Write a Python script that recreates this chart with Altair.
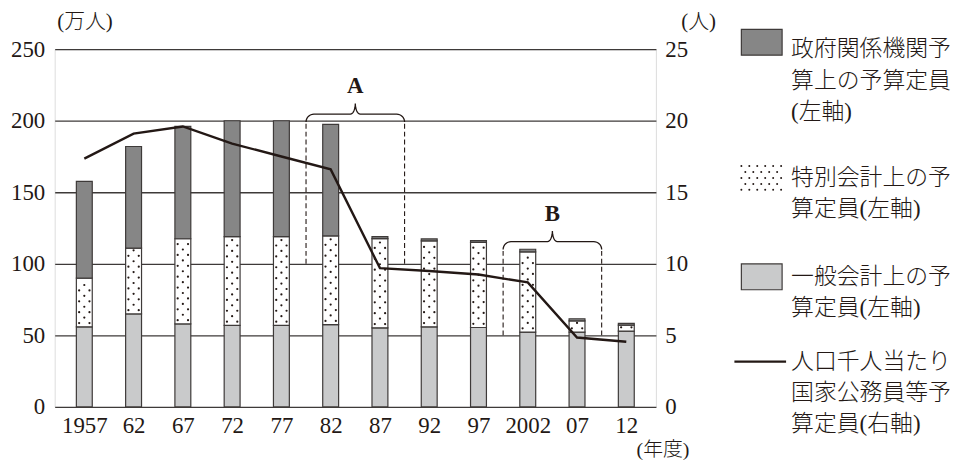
import math
import altair as alt
import pandas as pd

# ---------------- data ----------------
years = ["1957", "62", "67", "72", "77", "82", "87", "92", "97", "2002", "07", "12"]
general = [56, 65, 58, 57, 57, 57.5, 55.3, 56, 55.5, 52.3, 52.3, 53]          # 一般会計 (万人)
special = [34, 46, 59.5, 62, 62, 62, 62.3, 60, 59.5, 56, 7.8, 4.2]           # 特別会計 (万人)
govt = [67.6, 71, 78.5, 81, 81, 78, 1.4, 1.4, 1.2, 1.9, 1.5, 1.2]            # 政府関係機関 (万人)
per_thousand = [17.35, 19.1, 19.6, 18.4, 17.5, 16.6, 9.7, 9.5, 9.25, 8.7, 4.85, 4.55]  # 人口千人当たり (人)

bracket_labels = ["A", "B"]
bracket_first = [4.5, 8.5]
bracket_last = [6.5, 10.5]
bracket_base = [100, 50]
bracket_level = [204.6, 115.5]

legend_labels = [
    ["政府関係機関予", "算上の予算定員", "(左軸)"],
    ["特別会計上の予", "算定員(左軸)"],
    ["一般会計上の予", "算定員(左軸)"],
    ["人口千人当たり", "国家公務員等予", "算定員(右軸)"],
]
legend_kinds = ["govt", "special", "general", "line"]

# ---------------- styles / layout ----------------
INK = "#231815"
GRID = "#3e3a39"
DARK = "#868686"
LIGHT = "#c9cacb"
NUM_FONT = "Liberation Serif"
JP_FONT = "Liberation Serif, Noto Sans CJK JP"
W, H = 605, 360
n = len(years)
legend_gap_after = [1.1, 1.15, 0.7, 0]      # blank space between legend entries (in lines)
legend_swatch_shift = [-7, 0, 0, 0]          # px shift of swatch relative to first line

# ---------------- tables ----------------
seg_rows = []
for i in range(n):
    g, s, v = general[i], special[i], govt[i]
    seg_rows.append(dict(i=i, seg="general", y0=0, y1=g))
    seg_rows.append(dict(i=i, seg="special", y0=g, y1=g + s))
    seg_rows.append(dict(i=i, seg="govt", y0=g + s, y1=g + s + v))
bars_df = pd.DataFrame(seg_rows)

# dotted texture for the special-account segments
dot_rows = []
for i in range(n):
    lo, hi = general[i], general[i] + special[i]
    y, r = lo + 2.6, 0
    while y < hi - 1.2:
        offs = [-0.105, 0.105] if r % 2 == 0 else [0.0]
        for o in offs:
            dot_rows.append(dict(i=i + o, y=y))
        y += 3.8
        r += 1
dots_df = pd.DataFrame(dot_rows)

line_df = pd.DataFrame(dict(i=list(range(n)), v=per_thousand))

# braces
brace_rows, dash_rows, lab_rows = [], [], []
wc, hc = 0.16, 5.5      # corner radius (x units, y units)
wt, ht = 0.10, 7.5      # tip curve
steps = 8
for b, lab in enumerate(bracket_labels):
    x0, x1 = bracket_first[b], bracket_last[b]
    xm = (x0 + x1) / 2
    yh = bracket_level[b]
    pts = []
    for k in range(steps + 1):
        t = math.pi / 2 * k / steps
        pts.append((x0 + wc - wc * math.cos(t), yh - hc + hc * math.sin(t)))
    for k in range(steps + 1):
        t = math.pi / 2 * k / steps
        pts.append((xm - wt + wt * math.sin(t), yh + ht - ht * math.cos(t)))
    for k in range(steps, -1, -1):
        t = math.pi / 2 * k / steps
        pts.append((xm + wt - wt * math.sin(t), yh + ht - ht * math.cos(t)))
    for k in range(steps, -1, -1):
        t = math.pi / 2 * k / steps
        pts.append((x1 - wc + wc * math.cos(t), yh - hc + hc * math.sin(t)))
    for k, (px, py) in enumerate(pts):
        brace_rows.append(dict(b=lab, k=k, i=px, y=py))
    for xx in (x0, x1):
        dash_rows.append(dict(b=lab, i=xx, y0=bracket_base[b], y1=yh - hc))
    lab_rows.append(dict(label=lab, i=xm, y=yh + ht + 12))
brace_df = pd.DataFrame(brace_rows)
dash_df = pd.DataFrame(dash_rows)
lab_df = pd.DataFrame(lab_rows)

# ---------------- encodings ----------------
label_expr = "[" + ",".join(f"'{y}'" for y in years) + "][datum.value]"
x_axis = alt.Axis(values=list(range(n)), labelExpr=label_expr, grid=False, domain=False,
                  ticks=False, labelPadding=8, labelFont=NUM_FONT, labelFontSize=23,
                  labelColor=INK, title="(年度)", titleFont=JP_FONT, titleFontSize=20,
                  titleFontWeight=300, titleColor=INK, titleAngle=0,
                  titleAlign="left", titleBaseline="middle", titleX=585, titleY=43)
X = alt.X("i:Q", scale=alt.Scale(domain=[-0.5, n - 0.5], nice=False, zero=False), axis=x_axis)

y_scale = alt.Scale(domain=[0, 250], nice=False, zero=True)
y_axis = alt.Axis(values=[0, 50, 100, 150, 200, 250], grid=True, gridColor=GRID,
                  gridWidth=1.3, domain=False, ticks=False, labelPadding=10,
                  labelFont=NUM_FONT, labelFontSize=23, labelColor=INK,
                  title="(万人)", titleAngle=0, titleAlign="left", titleBaseline="middle",
                  titleX=2, titleY=-28, titleFont=JP_FONT, titleFontSize=21,
                  titleFontWeight=300, titleColor=INK)


def Y(field):
    return alt.Y(field, scale=y_scale, axis=y_axis)


bars = alt.Chart(bars_df).mark_bar(size=16, stroke=GRID, strokeWidth=1.2).encode(
    x=X, y=Y("y0:Q"), y2="y1:Q",
    color=alt.Color("seg:N", scale=alt.Scale(domain=["general", "special", "govt"],
                                             range=[LIGHT, "#ffffff", DARK]), legend=None),
)
dots = alt.Chart(dots_df).mark_circle(size=5, color=INK, opacity=1).encode(x=X, y=Y("y:Q"))
dashes = alt.Chart(dash_df).mark_rule(color=INK, strokeWidth=1.1, strokeDash=[5, 3]).encode(
    x=X, y=Y("y0:Q"), y2="y1:Q")
braces = alt.Chart(brace_df).mark_line(color=INK, strokeWidth=1.3).encode(
    x=X, y=Y("y:Q"), detail="b:N", order="k:Q")
labels = alt.Chart(lab_df).mark_text(font=NUM_FONT, fontSize=23, fontWeight="bold",
                                     color=INK, baseline="middle").encode(
    x=X, y=Y("y:Q"), text="label:N")

right_axis = alt.Axis(orient="right", values=[0, 5, 10, 15, 20, 25], grid=False, domain=False,
                      ticks=False, labelPadding=9, labelFont=NUM_FONT, labelFontSize=23,
                      labelColor=INK, title="(人)", titleAngle=0, titleAlign="left",
                      titleBaseline="middle", titleX=25, titleY=-28, titleFont=JP_FONT,
                      titleFontSize=21, titleFontWeight=300, titleColor=INK)
line = alt.Chart(line_df).mark_line(color=INK, strokeWidth=2.4).encode(
    x=X, y=alt.Y("v:Q", scale=alt.Scale(domain=[0, 25], nice=False), axis=right_axis))

main = alt.layer(alt.layer(bars, dots, dashes, braces, labels), line).resolve_scale(
    y="independent").properties(width=W, height=H)

# ---------------- legend panel ----------------
ROW_PX = 31.6
LW = 224
text_rows, sw_rows, ldot_rows, lline_rows = [], [], [], []
row = 0.0
for e, (lines, kind) in enumerate(zip(legend_labels, legend_kinds)):
    for j, t in enumerate(lines):
        text_rows.append(dict(x=57, r=row + j, t=t))
    half = 13 / ROW_PX
    c = row + legend_swatch_shift[e] / ROW_PX
    if kind == "line":
        lline_rows.append(dict(x=0, x2=52, r=c))
    elif kind != "special":
        sw_rows.append(dict(kind=kind, x=7, x2=48, r=c - half, r2=c + half))
    else:
        for a, dy in enumerate([-12, -6, 0, 6, 12]):
            xs = [7, 15, 23, 31, 39, 47] if a % 2 == 0 else [11, 19, 27, 35, 43]
            for xx in xs:
                ldot_rows.append(dict(x=xx, r=c + dy / ROW_PX))
    row += len(lines) + legend_gap_after[e]

LX = lambda f: alt.X(f, scale=alt.Scale(domain=[0, LW], nice=False, zero=False), axis=None)
LY = lambda f: alt.Y(f, scale=alt.Scale(domain=[0, H / ROW_PX], reverse=True, nice=False,
                                        zero=False), axis=None)

solid_sw = alt.Chart(pd.DataFrame(sw_rows)).mark_rect(stroke=GRID, strokeWidth=1.2).encode(
    x=LX("x:Q"), x2="x2:Q", y=LY("r:Q"), y2="r2:Q",
    color=alt.Color("kind:N", scale=alt.Scale(domain=["general", "govt"], range=[LIGHT, DARK]),
                    legend=None))
leg_dots = alt.Chart(pd.DataFrame(ldot_rows)).mark_circle(size=4, color=INK, opacity=1).encode(
    x=LX("x:Q"), y=LY("r:Q"))
leg_line = alt.Chart(pd.DataFrame(lline_rows)).mark_rule(color=INK, strokeWidth=2.4).encode(
    x=LX("x:Q"), x2="x2:Q", y=LY("r:Q"))
leg_text = alt.Chart(pd.DataFrame(text_rows)).mark_text(
    align="left", baseline="middle", font=JP_FONT, fontSize=23, fontWeight=300,
    color=INK).encode(
    x=LX("x:Q"), y=LY("r:Q"), text="t:N")

legend = alt.layer(solid_sw, leg_dots, leg_line, leg_text).properties(
    width=LW, height=H, view=alt.ViewConfig(stroke="transparent", strokeWidth=0))

chart = alt.hconcat(main, legend, spacing=16).properties(
    padding={"left": 2, "top": 0, "right": 0, "bottom": 0}
).configure_view(stroke="transparent", strokeWidth=0).configure(background="#ffffff")

chart.save("out.html", embed_options={"renderer": "svg", "actions": False})
